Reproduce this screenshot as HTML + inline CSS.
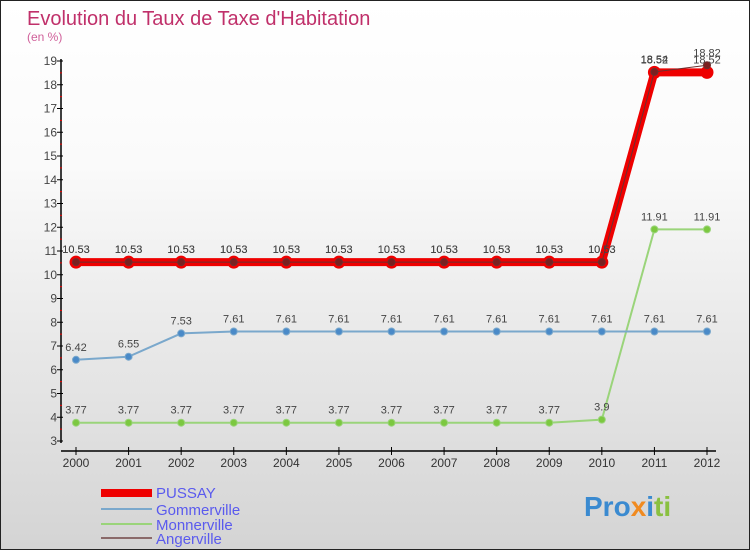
<!DOCTYPE html>
<html><head><meta charset="utf-8"><style>
body{margin:0}
#c{width:750px;height:550px;position:relative;box-sizing:border-box;border:1px solid #222;background:linear-gradient(#fff,#fafafa 30%,#d4d4d4);font-family:"Liberation Sans",sans-serif;overflow:hidden}
</style></head><body>
<div id="c">
<svg id="s" width="750" height="550" style="position:absolute;left:0;top:0">
<text x="26" y="24" font-size="20" fill="#c0306a">Evolution du Taux de Taxe d'Habitation</text>
<text x="26" y="40" font-size="12" fill="#d0609a">(en %)</text>
<line x1="60" y1="58" x2="60" y2="442" stroke="#000" stroke-width="1.5"/>
<line x1="60" y1="450" x2="715" y2="450" stroke="#000" stroke-width="1.5"/>
<g id="g"></g>
<g>
<rect x="100" y="488" width="51" height="8" fill="#e00"/>
<text x="155" y="497" font-size="15" fill="#5a5aee">PUSSAY</text>
<line x1="100" y1="508" x2="151" y2="508" stroke="#7aa8cc" stroke-width="2"/>
<text x="155" y="514" font-size="15" fill="#5a5aee">Gommerville</text>
<line x1="100" y1="523" x2="151" y2="523" stroke="#9ad47a" stroke-width="2"/>
<text x="155" y="529" font-size="15" fill="#5a5aee">Monnerville</text>
<line x1="100" y1="537" x2="151" y2="537" stroke="#8a6a6a" stroke-width="2"/>
<text x="155" y="543" font-size="15" fill="#5a5aee">Angerville</text>
</g>
<text x="583" y="515" font-size="28" font-weight="bold"><tspan fill="#3a8ad0">Pro</tspan><tspan fill="#f08a20">x</tspan><tspan fill="#3a8ad0">i</tspan><tspan fill="#8ac040">ti</tspan></text>
</svg>
</div>
<script>
const years=[2000,2001,2002,2003,2004,2005,2006,2007,2008,2009,2010,2011,2012];
const yTicks=[3,4,5,6,7,8,9,10,11,12,13,14,15,16,17,18,19];
const pussay=[10.53,10.53,10.53,10.53,10.53,10.53,10.53,10.53,10.53,10.53,10.53,18.52,18.52];
const gommerville=[6.42,6.55,7.53,7.61,7.61,7.61,7.61,7.61,7.61,7.61,7.61,7.61,7.61];
const monnerville=[3.77,3.77,3.77,3.77,3.77,3.77,3.77,3.77,3.77,3.77,3.9,11.91,11.91];
const angerville=[10.53,10.53,10.53,10.53,10.53,10.53,10.53,10.53,10.53,10.53,10.53,18.54,18.82];
const NS="http://www.w3.org/2000/svg",g=document.getElementById('g');
const X=i=>75+i*(706-75)/(years.length-1);
const Y=v=>440-(v-3)*23.75;
function el(t,a){const e=document.createElementNS(NS,t);for(const k in a)e.setAttribute(k,a[k]);g.appendChild(e);return e;}
yTicks.forEach(v=>{
 const l=el('line',{x1:56,x2:62,y1:Y(v),y2:Y(v),stroke:'#000'});
 
 
 const t=el('text',{x:56,y:Y(v)+4,'font-size':12,fill:'#444','text-anchor':'end'});t.textContent=v;
 
 
 if(v<19){const m=el('line',{x1:59,x2:61,y1:Y(v+0.5),y2:Y(v+0.5),stroke:'#e00'});}
});
years.forEach((y,i)=>{
 el('line',{x1:X(i),x2:X(i),y1:446,y2:454,stroke:'#000'});
 const t=el('text',{x:X(i),y:466,'font-size':12,fill:'#333','text-anchor':'middle'});t.textContent=y;
 
 
});
function series(name,vals,color,w,r,dot){
 const p=el('polyline',{points:vals.map((v,i)=>X(i)+','+Y(v)).join(' '),fill:'none',stroke:color,'stroke-width':w});
 
 
 vals.forEach((v,i)=>{
  const c=el('circle',{cx:X(i),cy:Y(v),r:r,fill:dot,stroke:color,'stroke-width':1});
  
  
  const t=el('text',{x:X(i),y:Y(v)-9,'font-size':11,fill:'#444','text-anchor':'middle'});t.textContent=v;
  
  
 });
}
series('monnerville',monnerville,'#9ad47a',2,3.5,'#7cc840');
series('gommerville',gommerville,'#7aa8cc',2,3.5,'#4a8ac8');
series('pussay',pussay,'#e00',8,6,'#e00');
series('angerville',angerville,'#6a3030',1,3.5,'#7a2020');
</script>
</body></html>
